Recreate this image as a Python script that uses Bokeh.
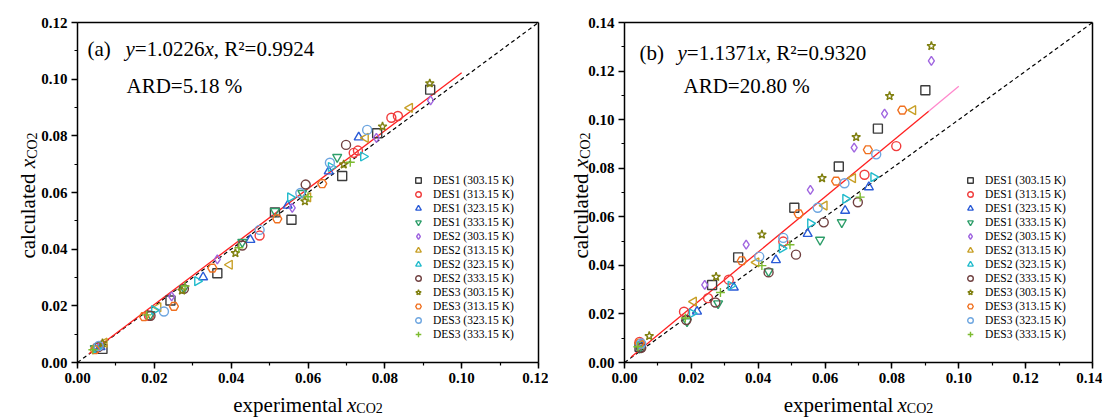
import math
from bokeh.plotting import figure
from bokeh.models import (Label, Legend, LegendItem, SingleIntervalTicker, FixedTicker,
                          NumeralTickFormatter, Range1d, LinearAxis)
from bokeh.layouts import row
from bokeh.embed import file_html
from bokeh.resources import INLINE

# ---------------- data ----------------
series_names = ["DES1 (303.15 K)", "DES1 (313.15 K)", "DES1 (323.15 K)", "DES1 (333.15 K)",
                "DES2 (303.15 K)", "DES2 (313.15 K)", "DES2 (323.15 K)", "DES2 (333.15 K)",
                "DES3 (303.15 K)", "DES3 (313.15 K)", "DES3 (323.15 K)", "DES3 (333.15 K)"]
series_markers = ["square", "circle", "triangle", "inverted_triangle", "diamond", "triangle",
                  "triangle", "circle", "star", "hex", "circle", "cross"]
series_angles = [0, 0, 0, 0, 0, math.pi / 2, -math.pi / 2, 0, 0, 0, 0, 0]
series_colors = ["#3c3c3c", "#f03c3c", "#2a5bd7", "#2e9e6a", "#a066e0", "#c8a028",
                 "#22bbcc", "#704040", "#808010", "#f07020", "#6ea6e0", "#7dbb30"]

# panel (a): experimental x, calculated x
a_exp = [
    [0.0065, 0.0242, 0.0364, 0.0514, 0.0557, 0.0689, 0.0780, 0.0918],
    [0.0050, 0.0186, 0.0474, 0.0719, 0.0730, 0.0817, 0.0834],
    [0.0060, 0.0327, 0.0450, 0.0547, 0.0654, 0.0732],
    [0.0045, 0.0190, 0.0277, 0.0429, 0.0514, 0.0585, 0.0676],
    [0.0060, 0.0245, 0.0364, 0.0559, 0.0778, 0.0919],
    [0.0070, 0.0210, 0.0396, 0.0600, 0.0750, 0.0865],
    [0.0050, 0.0200, 0.0312, 0.0554, 0.0660, 0.0744],
    [0.0055, 0.0190, 0.0277, 0.0429, 0.0594, 0.0699],
    [0.0065, 0.0272, 0.0411, 0.0592, 0.0693, 0.0794, 0.0917],
    [0.0045, 0.0173, 0.0251, 0.0351, 0.0520, 0.0637],
    [0.0055, 0.0225, 0.0474, 0.0580, 0.0657, 0.0754],
    [0.0040, 0.0180, 0.0280, 0.0420, 0.0600, 0.0710],
]
a_calc = [
    [0.0048, 0.0219, 0.0315, 0.0530, 0.0504, 0.0658, 0.0809, 0.0963],
    [0.0052, 0.0165, 0.0448, 0.0740, 0.0748, 0.0864, 0.0870],
    [0.0055, 0.0301, 0.0433, 0.0554, 0.0675, 0.0795],
    [0.0050, 0.0170, 0.0262, 0.0425, 0.0534, 0.0598, 0.0725],
    [0.0060, 0.0233, 0.0364, 0.0546, 0.0793, 0.0925],
    [0.0070, 0.0195, 0.0345, 0.0583, 0.0793, 0.0899],
    [0.0050, 0.0185, 0.0287, 0.0583, 0.0690, 0.0727],
    [0.0055, 0.0165, 0.0260, 0.0413, 0.0628, 0.0768],
    [0.0068, 0.0254, 0.0386, 0.0569, 0.0699, 0.0833, 0.0985],
    [0.0045, 0.0162, 0.0198, 0.0333, 0.0507, 0.0631],
    [0.0058, 0.0180, 0.0468, 0.0598, 0.0705, 0.0821],
    [0.0045, 0.0168, 0.0270, 0.0405, 0.0585, 0.0707],
]
# panel (b)
b_exp = [
    [0.0045, 0.0262, 0.0340, 0.0508, 0.0641, 0.0758, 0.0900],
    [0.0045, 0.0178, 0.0250, 0.0312, 0.0475, 0.0718, 0.0813],
    [0.0050, 0.0217, 0.0327, 0.0453, 0.0548, 0.0660, 0.0731],
    [0.0045, 0.0187, 0.0280, 0.0431, 0.0585, 0.0650],
    [0.0050, 0.0240, 0.0364, 0.0556, 0.0687, 0.0778, 0.0918],
    [0.0050, 0.0207, 0.0394, 0.0598, 0.0683, 0.0863],
    [0.0045, 0.0202, 0.0318, 0.0471, 0.0556, 0.0661, 0.0745],
    [0.0050, 0.0185, 0.0272, 0.0431, 0.0513, 0.0596, 0.0698],
    [0.0074, 0.0274, 0.0411, 0.0591, 0.0693, 0.0793, 0.0918],
    [0.0045, 0.0351, 0.0521, 0.0633, 0.0728, 0.0831],
    [0.0050, 0.0403, 0.0475, 0.0578, 0.0658, 0.0753],
    [0.0040, 0.0182, 0.0287, 0.0411, 0.0495, 0.0705],
]
b_calc = [
    [0.0065, 0.0319, 0.0433, 0.0637, 0.0807, 0.0963, 0.1121],
    [0.0085, 0.0209, 0.0265, 0.0341, 0.0498, 0.0773, 0.0891],
    [0.0070, 0.0210, 0.0309, 0.0422, 0.0530, 0.0625, 0.0722],
    [0.0060, 0.0169, 0.0243, 0.0375, 0.0505, 0.0577],
    [0.0080, 0.0320, 0.0485, 0.0711, 0.0885, 0.1025, 0.1242],
    [0.0075, 0.0251, 0.0412, 0.0646, 0.0759, 0.1039],
    [0.0070, 0.0202, 0.0316, 0.0470, 0.0573, 0.0674, 0.0763],
    [0.0060, 0.0175, 0.0247, 0.0371, 0.0444, 0.0577, 0.0660],
    [0.0109, 0.0353, 0.0527, 0.0759, 0.0928, 0.1097, 0.1303],
    [0.0080, 0.0419, 0.0612, 0.0747, 0.0876, 0.1039],
    [0.0078, 0.0436, 0.0513, 0.0637, 0.0738, 0.0857],
    [0.0065, 0.0183, 0.0288, 0.0399, 0.0485, 0.0681],
]

a_axis_max = 0.12
b_axis_max = 0.14
a_slope = 1.0226
b_slope = 1.1371
a_fit_x = [0.003, 0.100]
b_fit_x = [0.002, 0.091]
b_fit_x_end = [0.091, 0.100]
a_text1 = ["(a)", "y", "=1.0226", "x", ", R\u00b2=0.9924"]
b_text1 = ["(b)", "y", "=1.1371", "x", ", R\u00b2=0.9320"]
a_ard = "ARD=5.18 %"
b_ard = "ARD=20.80 %"
xlabel_parts = ["experimental ", "x", "CO2"]
ylabel_parts = ["calculated ", "x", "CO2"]

SERIF = "Liberation Serif"
# Times-like advance widths (em) for laying out composite labels
W = {"0": .5, "1": .5, "2": .5, "3": .5, "4": .5, "5": .5, "6": .5, "7": .5, "8": .5, "9": .5,
     ".": .25, "=": .564, ",": .25, " ": .25, "R": .667, "\u00b2": .3, "x": .444, "y": .444,
     "(": .333, ")": .333, "a": .444, "b": .5, "C": .667, "O": .722, "e": .444, "p": .5,
     "r": .333, "i": .278, "m": .778, "n": .5, "t": .278, "l": .278, "c": .444, "u": .5, "d": .5}


def wid(s, size):
    return sum(W.get(ch, .5) for ch in s) * size


# page geometry (pixels); the page is rendered from its top-left corner
PAGE_TOP = 0
FIG_H = 418
FRAME_TOP = 22        # page y of data max
FRAME_BOT = 362       # page y of data 0
XLAB_BASE = 404


def make_panel(axis_max, fig_left, fig_w, box_left, box_right):
    sx = axis_max / (box_right - box_left)
    sy = axis_max / (FRAME_BOT - FRAME_TOP)
    xr = Range1d(-(box_left - fig_left) * sx, axis_max + (fig_left + fig_w - box_right) * sx)
    yr = Range1d(-(PAGE_TOP + FIG_H - FRAME_BOT) * sy, axis_max + (FRAME_TOP - PAGE_TOP) * sy)
    p = figure(output_backend="svg", toolbar_location=None, width=fig_w, height=FIG_H,
               min_border=0, min_border_left=0, min_border_right=0, min_border_top=0,
               min_border_bottom=0, x_range=xr, y_range=yr,
               x_axis_location=None, y_axis_location=None,
               background_fill_color="white", border_fill_color="white")
    p.grid.visible = False
    p.outline_line_color = None
    xax = LinearAxis(fixed_location=0, bounds=(0, axis_max))
    yax = LinearAxis(fixed_location=0, bounds=(0, axis_max))
    for ax in (xax, yax):
        ax.ticker = SingleIntervalTicker(interval=0.02, num_minor_ticks=2)
        ax.formatter = NumeralTickFormatter(format="0.00")
        ax.axis_line_width = 1.5
        ax.axis_line_color = "black"
        ax.major_tick_line_width = 1.5
        ax.minor_tick_line_width = 1.2
        ax.major_tick_in = 0
        ax.major_tick_out = 6
        ax.minor_tick_in = 0
        ax.minor_tick_out = 3
        ax.major_label_text_font = SERIF
        ax.major_label_text_font_style = "bold"
        ax.major_label_text_font_size = "15px"
        ax.major_label_text_color = "black"
        ax.major_label_standoff = 4
    p.add_layout(xax, "below")
    p.add_layout(yax, "left")
    # box edges (top / right)
    tax = LinearAxis(fixed_location=axis_max, bounds=(0, axis_max), ticker=FixedTicker(ticks=[]),
                     axis_line_width=1.5, axis_line_color="black")
    rax = LinearAxis(fixed_location=axis_max, bounds=(0, axis_max), ticker=FixedTicker(ticks=[]),
                     axis_line_width=1.5, axis_line_color="black")
    p.add_layout(tax, "above")
    p.add_layout(rax, "right")
    return p


def add_text(p, axis_max, box_left, px, py, text, size, italic=False, angle=0.0):
    p.add_layout(Label(x=0, y=axis_max, x_units="data", y_units="data",
                       x_offset=px - box_left, y_offset=-(py - FRAME_TOP),
                       text=text, text_font=SERIF, text_font_size=f"{size}px",
                       text_font_style="italic" if italic else "normal",
                       text_color="black", text_baseline="alphabetic", text_align="left",
                       angle=angle))


def decorate(p, axis_max, bl, br, text1, t1_x, t1_base, ard, ard_x, ylab_base_x):
    add_text(p, axis_max, bl, t1_x, t1_base, text1[0], 21)
    x = t1_x + 38
    add_text(p, axis_max, bl, x, t1_base, text1[1], 21, italic=True)
    x += wid(text1[1], 21)
    add_text(p, axis_max, bl, x, t1_base, text1[2], 21)
    x += wid(text1[2], 21)
    add_text(p, axis_max, bl, x, t1_base, text1[3], 21, italic=True)
    x += wid(text1[3], 21)
    add_text(p, axis_max, bl, x, t1_base, text1[4], 21)
    add_text(p, axis_max, bl, ard_x, 85, ard, 21)
    # x axis label
    total = wid(xlabel_parts[0], 21) + wid(xlabel_parts[1], 21) + wid(xlabel_parts[2], 14)
    x = (bl + br) / 2 - total / 2
    add_text(p, axis_max, bl, x, XLAB_BASE, xlabel_parts[0], 21)
    x += wid(xlabel_parts[0], 21)
    add_text(p, axis_max, bl, x, XLAB_BASE, xlabel_parts[1], 21, italic=True)
    x += wid(xlabel_parts[1], 21)
    add_text(p, axis_max, bl, x, XLAB_BASE + 4, xlabel_parts[2], 14)
    # y axis label (rotated)
    total = wid(ylabel_parts[0], 21) + wid(ylabel_parts[1], 21) + wid(ylabel_parts[2], 14)
    y = (FRAME_TOP + FRAME_BOT) / 2 + total / 2 + 3
    add_text(p, axis_max, bl, ylab_base_x, y, ylabel_parts[0], 21, angle=math.pi / 2)
    y -= wid(ylabel_parts[0], 21)
    add_text(p, axis_max, bl, ylab_base_x, y, ylabel_parts[1], 21, italic=True, angle=math.pi / 2)
    y -= wid(ylabel_parts[1], 21)
    add_text(p, axis_max, bl, ylab_base_x + 5, y, ylabel_parts[2], 14, angle=math.pi / 2)


def add_series(p, exps, calcs, legend_x, legend_y):
    items = []
    for i, name in enumerate(series_names):
        r = p.scatter(exps[i], calcs[i], marker=series_markers[i], size=9,
                      angle=series_angles[i], fill_color=None,
                      line_color=series_colors[i], line_width=1.4)
        items.append(LegendItem(label=name, renderers=[r]))
    leg = Legend(items=items, location=(legend_x, legend_y), padding=0, margin=0, spacing=0,
                 glyph_height=14, glyph_width=14, label_height=14, label_standoff=8,
                 label_text_font=SERIF, label_text_font_size="11.5px",
                 label_text_color="black", border_line_color=None,
                 background_fill_alpha=0)
    p.add_layout(leg)


# -------- panel (a) --------
A_FIG_LEFT, A_FIG_W, A_BL, A_BR = 0, 548, 77, 538
pa = make_panel(a_axis_max, A_FIG_LEFT, A_FIG_W, A_BL, A_BR)
pa.line([0, a_axis_max], [0, a_axis_max], line_color="black", line_dash="4 3", line_width=1.2)
pa.line(a_fit_x, [a_slope * v for v in a_fit_x], line_color="#ff2020", line_width=1.3)
add_series(pa, a_exp, a_calc, 411 - A_FIG_LEFT, PAGE_TOP + FIG_H - 341)
decorate(pa, a_axis_max, A_BL, A_BR, a_text1, 87, 48, a_ard, 126, 27)

# -------- panel (b) --------
B_FIG_LEFT, B_FIG_W, B_BL, B_BR = 548, 554, 624, 1092
pb = make_panel(b_axis_max, B_FIG_LEFT, B_FIG_W, B_BL, B_BR)
pb.line([0, b_axis_max], [0, b_axis_max], line_color="black", line_dash="4 3", line_width=1.2)
pb.line(b_fit_x, [b_slope * v for v in b_fit_x], line_color="#ff2020", line_width=1.3)
pb.line(b_fit_x_end, [b_slope * v for v in b_fit_x_end], line_color="#ff88cc", line_width=1.3)
add_series(pb, b_exp, b_calc, 963 - B_FIG_LEFT, PAGE_TOP + FIG_H - 341)
decorate(pb, b_axis_max, B_BL, B_BR, b_text1, 639, 52, b_ard, 683, 580)

layout = row(pa, pb)
open("out.html", "w").write(file_html(layout, INLINE))
